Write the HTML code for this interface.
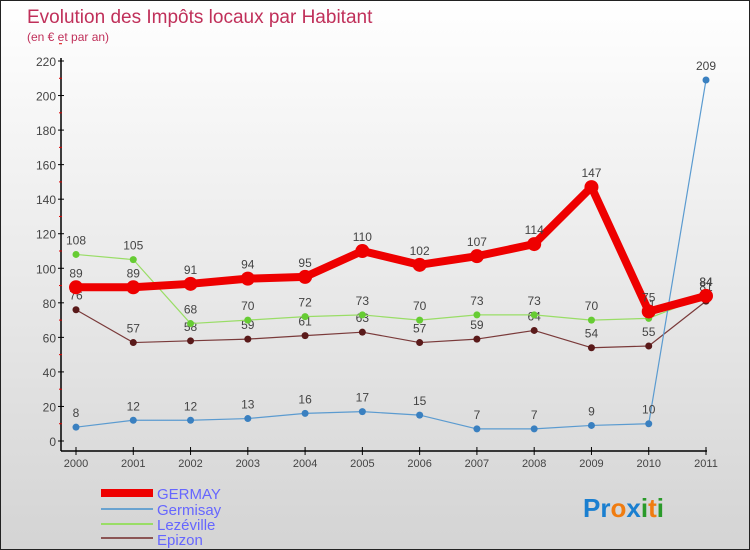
<!DOCTYPE html>
<html><head><meta charset="utf-8"><style>
body{margin:0}
#c{width:748px;height:548px;border:1px solid #222;background:linear-gradient(#fff,#d4d4d4);position:relative;font-family:"Liberation Sans",sans-serif;overflow:hidden}
svg text{font-family:"Liberation Sans",sans-serif}
</style></head><body>
<div id="c">
<svg id="s" width="748" height="548">
<text x="26" y="22" font-size="19" fill="#c0305a">Evolution des Impôts locaux par Habitant</text>
<text x="26" y="40" font-size="12" fill="#c0305a">(en € et par an)</text>
<g id="axes"></g><g id="series"></g>
<g>
<rect x="100" y="488" width="52" height="8" fill="#e00"/>
<text x="156" y="498" font-size="15" fill="#66f">GERMAY</text>
<rect x="100" y="507" width="52" height="2" fill="#6aa3d0"/>
<text x="156" y="514" font-size="15" fill="#66f">Germisay</text>
<rect x="100" y="522" width="52" height="2" fill="#99dd66"/>
<text x="156" y="529" font-size="15" fill="#66f">Lezéville</text>
<rect x="100" y="536" width="52" height="2" fill="#8b5555"/>
<text x="156" y="544" font-size="15" fill="#66f">Epizon</text>
</g>
<text x="582" y="516" font-size="26" font-weight="bold"><tspan fill="#1a7fd0">Pr</tspan><tspan fill="#f07c10">o</tspan><tspan fill="#1a7fd0">x</tspan><tspan fill="#2a9a2a">i</tspan><tspan fill="#f07c10">t</tspan><tspan fill="#2a9a2a">i</tspan></text>
</svg></div>
<script>
const years=["2000","2001","2002","2003","2004","2005","2006","2007","2008","2009","2010","2011"];
const yTicks=[0,20,40,60,80,100,120,140,160,180,200,220];
const germay=[89,89,91,94,95,110,102,107,114,147,75,84];
const germisay=[8,12,12,13,16,17,15,7,7,9,10,209];
const lezeville=[108,105,68,70,72,73,70,73,73,70,71,84];
const epizon=[76,57,58,59,61,63,57,59,64,54,55,81];
const NS="http://www.w3.org/2000/svg";
const X=i=>75+i*(630/11);
const Y=v=>440-v*(380/220);
function mk(t,a,p){const e=document.createElementNS(NS,t);for(const k in a)e.setAttribute(k,a[k]);p.appendChild(e);return e;}
const ax=document.getElementById('axes');
let l=mk('line',{x1:60,y1:Y(220)-3,x2:60,y2:450,stroke:'#000','stroke-width':1.5},ax);


l=mk('line',{x1:60,y1:450,x2:706,y2:450,stroke:'#000','stroke-width':1.5},ax);


yTicks.forEach(v=>{mk('line',{x1:57,y1:Y(v),x2:63,y2:Y(v),stroke:'#000'},ax);
mk('line',{x1:58,y1:Y(v+10),x2:61,y2:Y(v+10),stroke:'#d00'},ax);
const t=mk('text',{x:55,y:Y(v)+5,'text-anchor':'end','font-size':12,fill:'#444'},ax);t.textContent=v;

});
years.forEach((y,i)=>{mk('line',{x1:X(i),y1:446,x2:X(i),y2:454,stroke:'#000'},ax);
const t=mk('text',{x:X(i),y:466,'text-anchor':'middle','font-size':11,fill:'#444'},ax);t.textContent=y;

});
const sg=document.getElementById('series');
function series(d,name,col,w,r,fill,labels){
const g=mk('g',{},sg);


const p=mk('polyline',{points:d.map((v,i)=>X(i)+','+Y(v)).join(' '),fill:'none',stroke:col,'stroke-width':w,'stroke-linejoin':'round'},g);


d.forEach((v,i)=>{const c=mk('circle',{cx:X(i),cy:Y(v),r:r,fill:fill},g);


if(labels){const t=mk('text',{x:X(i),y:Y(v)-10,'text-anchor':'middle','font-size':12,fill:'#444'},g);t.textContent=v;

}});}
series(epizon,'epizon','#7a3a3a',1.2,3.5,'#5a1a1a',true);
series(lezeville,'lezeville','#99dd66',1.2,3.5,'#66cc33',true);
series(germisay,'germisay','#5b9bd0',1.2,3.5,'#3a80c0',true);
series(germay,'germay','#ee0000',8,7,'#ee0000',true);
</script>
</body></html>
